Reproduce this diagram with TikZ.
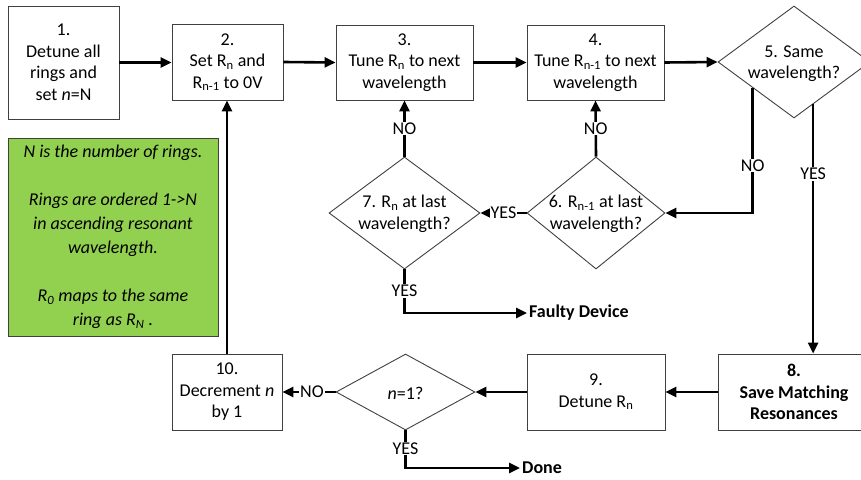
\documentclass[tikz,border=0pt]{standalone}
\usepackage{fontspec}
\setmainfont{Carlito}
\usetikzlibrary{shapes.geometric,arrows.meta,calc}
\definecolor{grn}{HTML}{92D050}
\definecolor{edge}{HTML}{404040}
\begin{document}
\begin{tikzpicture}[x=1pt,y=-1pt,
  every node/.style={font=\fontsize{18}{21.5}\selectfont},
  box/.style={draw=edge, line width=0.9pt, rectangle, inner sep=0pt, align=center, fill=white},
  dia/.style={draw=edge, line width=0.9pt, diamond, inner sep=0pt, fill=white},
  txt/.style={align=center, inner sep=0pt},
  conn/.style={line width=2.6pt, -{Triangle[length=11pt,width=10pt]}},
  lbl/.style={fill=white, inner sep=1pt},
  endtxt/.style={inner sep=2pt, anchor=west, font=\fontsize{18}{21.5}\selectfont\bfseries},
]
\useasboundingbox (0,0) rectangle (861,479);
\clip (0,0) rectangle (861,479);

% boxes
\node[box, minimum width=111, minimum height=113] (b1) at (63.5,62.5) {1.\\Detune all\\rings and\\set \textit{n}=N};
\node[box, minimum width=111, minimum height=76] (b2) at (227.5,62) {2.\\Set R\textsubscript{n} and\\R\textsubscript{n-1} to 0V};
\node[box, minimum width=137, minimum height=75] (b3) at (404.5,62.5) {3.\\Tune R\textsubscript{n} to next\\wavelength};
\node[box, minimum width=137, minimum height=75] (b4) at (595.5,62.5) {4.\\Tune R\textsubscript{n-1} to next\\wavelength};

% diamonds
\node[dia, minimum width=152, minimum height=112] (d5) at (794,62) {};
\node[txt] (t5) at (794,63.5) {5. Same\\wavelength?};
\node[dia, minimum width=138, minimum height=112] (d6) at (596,213) {};
\node[txt] (t6) at (596,214) {6. R\textsubscript{n-1} at last\\wavelength?};
\node[dia, minimum width=151, minimum height=112] (d7) at (404.5,213) {};
\node[txt] (t7) at (404.5,214) {7. R\textsubscript{n} at last\\wavelength?};

% bottom row
\node[box, minimum width=152, minimum height=76, font=\fontsize{18}{21.5}\selectfont\bfseries] (b8) at (794,392) {8.\\Save Matching\\Resonances};
\node[box, minimum width=138, minimum height=76] (b9) at (596,392) {9.\\Detune R\textsubscript{n}};
\node[dia, minimum width=139, minimum height=76] (dn) at (405.5,392) {};
\node[txt] (tn) at (405.5,393) {\textit{n}=1?};
\node[box, minimum width=110, minimum height=76] (b10) at (227,392) {10.\\Decrement \textit{n}\\by 1};

% note
\node[draw=edge, line width=0.9pt, fill=grn, minimum width=210, minimum height=198, inner sep=0pt, align=center,
      font=\fontsize{18}{24}\selectfont\itshape] (note) at (113,237)
  {N is the number of rings.\\[24pt]Rings are ordered 1->N\\in ascending resonant\\wavelength.\\[24pt]R\textsubscript{0} maps to the same\\ring as R\textsubscript{N} .};

% end texts
\node[endtxt] (faulty) at (527,313) {Faulty Device};
\node[endtxt] (done) at (520,468) {Done};

% connector end points on the diamond edges
\coordinate (n5) at ($(d5.west)!0.46!(d5.south)$);
\coordinate (y5) at ($(d5.south)!0.25!(d5.east)$);

% connectors
\draw[conn] (b1.east) -- (b1.east -| b2.west);
\draw[conn] (b2.east) -- (b3.west);
\draw[conn] (b3.east) -- (b4.west);
\draw[conn] (b4.east) -- (d5.west);
\draw[conn] (n5) |- (d6.east) node[lbl, pos=0.31] (l1) {NO};
\draw[conn] (y5) -- (y5 |- b8.north) node[lbl, pos=0.28] (l2) {YES};
\draw[conn] (d6.west) -- (d7.east) node[lbl, midway] (l3) {YES};
\draw[conn] (d7.north) -- (b3.south) node[lbl, midway] (l4) {NO};
\draw[conn] (d6.north) -- (b4.south) node[lbl, midway] (l5) {NO};
\draw[conn] (d7.south) |- (faulty.west) node[lbl, pos=0.245] (l6) {YES};
\draw[conn] (b8.west) -- (b9.east);
\draw[conn] (b9.west) -- (dn.east);
\draw[conn] (dn.west) -- (b10.east) node[lbl, midway, xshift=3pt] (l7) {NO};
\draw[conn] (dn.south) |- (done.west) node[lbl, pos=0.24] (l8) {YES};
\draw[conn] (b10.north) -- (b10.north |- b2.south);
\end{tikzpicture}
\end{document}
